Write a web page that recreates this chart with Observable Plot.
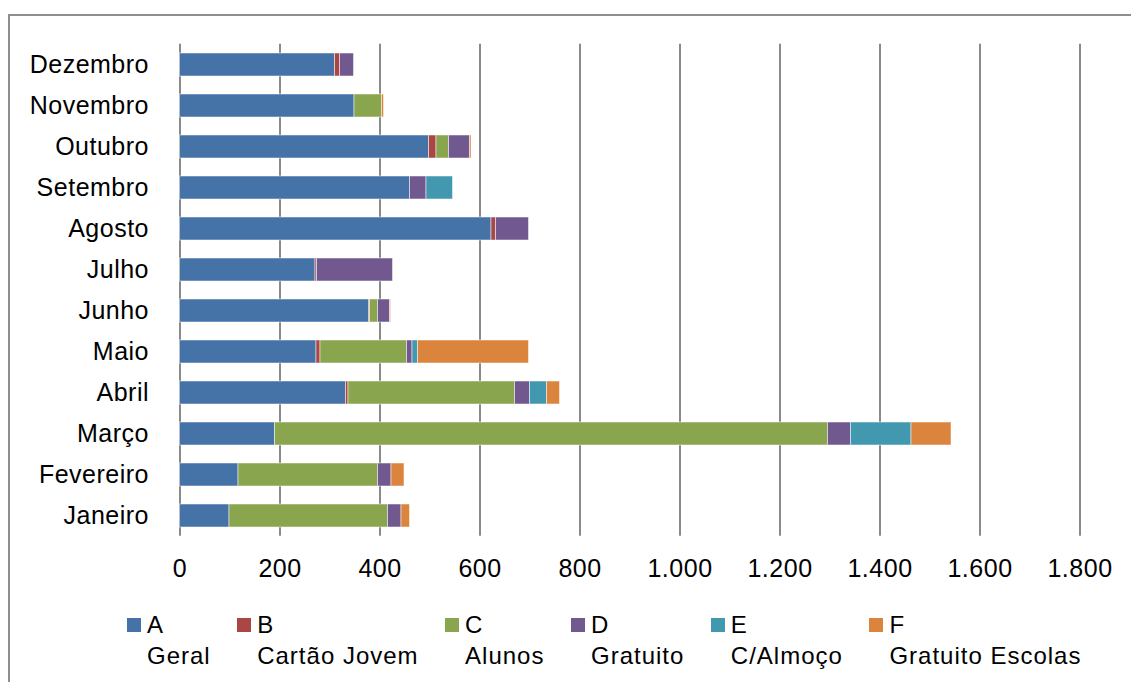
<!DOCTYPE html>
<html lang="pt">
<head>
<meta charset="utf-8">
<title>Bilhetes por mês</title>
<script src="https://cdn.jsdelivr.net/npm/d3@7"></script>
<script src="https://cdn.jsdelivr.net/npm/@observablehq/plot@0.6"></script>
<style>
  html, body { margin: 0; padding: 0; background: #fff; }
  body { width: 1131px; height: 682px; overflow: hidden; position: relative;
         font-family: "Liberation Sans", Arial, sans-serif; }
  #frame { position: absolute; left: 8px; top: 14px; width: 1200px; height: 800px;
           border-left: 2px solid #8e8e8e; border-top: 2px solid #8e8e8e; box-sizing: border-box; }
  #chart { position: absolute; left: 0; top: 0; }
  #legend { position: absolute; left: 127px; top: 609px; display: flex; gap: 26.5px;
            font-size: 24px; letter-spacing: 1px; line-height: 31px; color: #000; }
  .item { position: relative; padding-left: 20px; white-space: nowrap; }
  .swatch { position: absolute; left: 0; top: 9px; width: 14px; height: 14px; }
</style>
</head>
<body>
<div id="frame"></div>
<div id="chart"></div>
<div id="legend"></div>
<script>
// Months (bottom to top) and the six ticket types
const months = ["Janeiro", "Fevereiro", "Março", "Abril", "Maio", "Junho",
                "Julho", "Agosto", "Setembro", "Outubro", "Novembro", "Dezembro"];
const seriesKeys  = ["A", "B", "C", "D", "E", "F"];
const seriesNames = ["Geral", "Cartão Jovem", "Alunos", "Gratuito", "C/Almoço", "Gratuito Escolas"];
const seriesColors = ["#4572A7", "#AA4643", "#89A54E", "#71588F", "#4198AF", "#DB843D"];

// Monthly counts per type, Janeiro..Dezembro
const valuesA = [99, 117, 190, 332, 273, 378, 271, 623, 460, 498, 349, 310];
const valuesB = [0, 0, 0, 5, 8, 2, 3, 9, 0, 15, 0, 10];
const valuesC = [317, 279, 1106, 333, 173, 16, 0, 0, 0, 25, 55, 0];
const valuesD = [27, 27, 46, 30, 11, 24, 152, 66, 33, 42, 0, 28];
const valuesE = [0, 0, 121, 34, 11, 0, 0, 0, 53, 0, 0, 0];
const valuesF = [17, 26, 80, 26, 222, 2, 0, 0, 0, 3, 4, 0];

const xTicks = [0, 200, 400, 600, 800, 1000, 1200, 1400, 1600, 1800];

const seriesValues = [valuesA, valuesB, valuesC, valuesD, valuesE, valuesF];
const rows = [];
seriesKeys.forEach((key, i) => {
  months.forEach((month, j) => {
    const value = seriesValues[i][j];
    if (value > 0) rows.push({month, series: key, value});
  });
});

// Portuguese number format: 1.000, 1.200 ...
const fmt = d3.formatLocale({decimal: ",", thousands: ".", grouping: [3], currency: ["", ""]}).format(",");

const chart = Plot.plot({
  width: 1131,
  height: 600,
  marginLeft: 179.5,
  marginRight: 51.5,
  marginTop: 43.7,
  marginBottom: 64.2,
  style: {
    fontFamily: "'Liberation Sans', Arial, sans-serif",
    fontSize: "25px",
    letterSpacing: "0.5px",
    color: "#000",
    background: "transparent",
    overflow: "visible"
  },
  x: {domain: [0, 1800], ticks: xTicks},
  y: {domain: months.slice().reverse(), paddingInner: 0.44, paddingOuter: 0.22},
  color: {domain: seriesKeys, range: seriesColors},
  marks: [
    Plot.ruleX(xTicks, {stroke: "#8a8a8a", strokeWidth: 2}),
    Plot.barX(rows, {x: "value", y: "month", fill: "series",
                     stroke: "#ffffff", strokeOpacity: 0.5, strokeWidth: 1}),
    Plot.axisX({ticks: xTicks, tickSize: 0, tickPadding: 23, tickFormat: fmt, label: null}),
    Plot.axisY({tickSize: 0, tickPadding: 31, label: null})
  ]
});
document.getElementById("chart").appendChild(chart);

// Legend: swatch, letter, and the type's name on a second line
const legend = d3.select("#legend");
seriesKeys.forEach((key, i) => {
  const item = legend.append("div").attr("class", "item");
  item.append("span").attr("class", "swatch").style("background", seriesColors[i]);
  item.append("div").text(key);
  item.append("div").text(seriesNames[i]);
});
</script>
</body>
</html>
